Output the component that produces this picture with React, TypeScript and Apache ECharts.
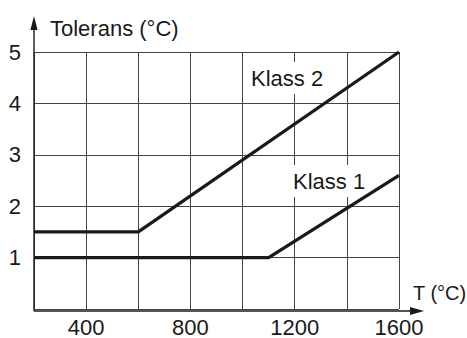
import React, { useEffect, useRef } from "react";
import * as echarts from "echarts";

const klass1: [number, number][] = [[200, 1], [1100, 1], [1600, 2.6]];
const klass2: [number, number][] = [[200, 1.5], [600, 1.5], [1600, 5]];
const xLabels = [400, 800, 1200, 1600];
const yLabels = [1, 2, 3, 4, 5];
const seriesNames = ["Klass 1", "Klass 2"];

const W = 467;
const H = 338;
const GL = 34, GR = 68, GT = 52, GB = 27;
const FONT = "Liberation Sans, Arial, Helvetica, sans-serif";
const TXT = "#1a1a1a";
const FS = 22;

export default function App() {
  const ref = useRef<HTMLDivElement>(null);
  useEffect(() => {
    if (!ref.current) return;
    const chart = echarts.init(ref.current, null, { renderer: "svg" });
    const x0 = GL, yb = H - GB;
    chart.setOption({
      animation: false,
      backgroundColor: "#ffffff",
      grid: { left: GL, right: GR, top: GT, bottom: GB, containLabel: false },
      xAxis: {
        type: "value",
        min: 200,
        max: 1600,
        interval: 200,
        axisLine: { show: false },
        axisTick: { show: false },
        splitLine: { show: true, lineStyle: { color: "#444444", width: 1 } },
        axisLabel: {
          margin: 7,
          fontSize: FS,
          fontFamily: FONT,
          color: TXT,
          formatter: (v: number) => (xLabels.includes(v) ? String(v) : ""),
        },
      },
      yAxis: {
        type: "value",
        min: 0,
        max: 5,
        interval: 1,
        axisLine: { show: false },
        axisTick: { show: false },
        splitLine: { show: true, lineStyle: { color: "#444444", width: 1 } },
        axisLabel: {
          margin: 13,
          fontSize: FS,
          fontFamily: FONT,
          color: TXT,
          formatter: (v: number) => (yLabels.includes(v) ? String(v) : ""),
        },
      },
      series: [
        {
          name: seriesNames[0],
          type: "line",
          data: klass1,
          symbol: "none",
          clip: false,
          lineStyle: { color: "#1a1a1a", width: 3.3 },
          z: 5,
        },
        {
          name: seriesNames[1],
          type: "line",
          data: klass2,
          symbol: "none",
          clip: false,
          lineStyle: { color: "#1a1a1a", width: 3.3 },
          z: 5,
        },
      ],
      graphic: [
        { type: "line", shape: { x1: x0, y1: yb, x2: x0, y2: 24 }, style: { stroke: "#1a1a1a", lineWidth: 1.4 }, z: 10 },
        { type: "polygon", shape: { points: [[x0, 16], [x0 - 3.6, 30], [x0 + 3.6, 30]] }, style: { fill: "#1a1a1a" }, z: 10 },
        { type: "line", shape: { x1: x0, y1: yb, x2: 414, y2: yb }, style: { stroke: "#1a1a1a", lineWidth: 1.4 }, z: 10 },
        { type: "polygon", shape: { points: [[424, yb], [410, yb - 4], [410, yb + 4]] }, style: { fill: "#1a1a1a" }, z: 10 },
        { type: "text", x: 50, y: 28, style: { text: "Tolerans (°C)", fontSize: FS, fontFamily: FONT, fill: TXT, textVerticalAlign: "middle" }, z: 10 },
        { type: "text", x: 413, y: 293, style: { text: "T (°C)", fontSize: 20, fontFamily: FONT, fill: TXT, textVerticalAlign: "middle" }, z: 10 },
        { type: "text", x: 247, y: 78, style: { text: seriesNames[1], fontSize: FS, fontFamily: FONT, fill: TXT, textVerticalAlign: "middle", backgroundColor: "#ffffff", padding: [5, 4] }, z: 4 },
        { type: "text", x: 289, y: 181, style: { text: seriesNames[0], fontSize: FS, fontFamily: FONT, fill: TXT, textVerticalAlign: "middle", backgroundColor: "#ffffff", padding: [5, 4] }, z: 4 },
      ],
    });
    return () => chart.dispose();
  }, []);
  return <div ref={ref} style={{ position: "absolute", left: 0, top: 0, width: W, height: H }} />;
}
